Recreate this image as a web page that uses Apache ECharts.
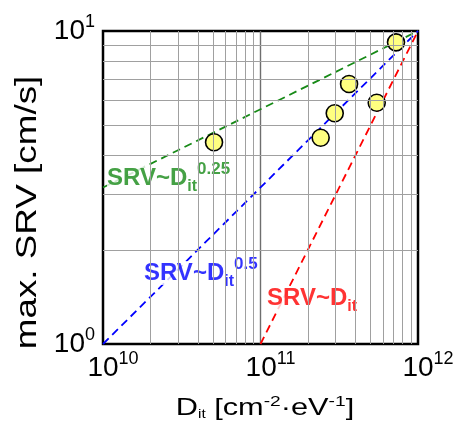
<!DOCTYPE html>
<html>
<head>
<meta charset="utf-8">
<script src="https://cdn.jsdelivr.net/npm/echarts@6/dist/echarts.min.js"></script>
<style>
html,body{margin:0;padding:0;background:#fff;}
#c{width:458px;height:424px;}
</style>
</head>
<body>
<div id="c"></div>
<script>
// ---- data ----
const dit = [5.07e10, 2.41e11, 2.96e11, 3.65e11, 5.47e11, 7.25e11];
const srv = [4.41, 4.56, 5.46, 6.77, 5.90, 9.20];
const fit025 = [[1e10, 3.162], [1e12, 10]];
const fit05 = [[1e10, 1], [1e12, 10]];
const fit1 = [[1e11, 1], [1e12, 10]];
const fitExponents = ['0.25', '0.5', ''];
const xTicks = [1e10, 1e11, 1e12];
const yTicks = [1, 10];
const minorMultipliers = [2, 3, 4, 5, 6, 7, 8, 9];

const FONT = '"Liberation Sans", Arial, sans-serif';
const GREEN = '#178a17', BLUE = '#0000ff', RED = '#ff0000';

const chart = echarts.init(document.getElementById('c'), null, {renderer: 'canvas'});

// minor grid lines (2..9 per decade)
const minorLines = [];
for (let d = 0; d < xTicks.length - 1; d++) {
  minorMultipliers.forEach(m => minorLines.push({xAxis: xTicks[d] * m}));
}
for (let d = 0; d < yTicks.length - 1; d++) {
  minorMultipliers.forEach(m => minorLines.push({yAxis: yTicks[d] * m}));
}

function fitLabel(color, sup) {
  const rich = {
    b: {fontFamily: FONT, fontSize: 24, fontWeight: 'bold', color: color, lineHeight: 32, backgroundColor: '#fff'},
    sub: {fontFamily: FONT, fontSize: 16, fontWeight: 'bold', color: color, lineHeight: 14, height: 14, verticalAlign: 'bottom', backgroundColor: '#fff'},
    sup: {fontFamily: FONT, fontSize: 17, fontWeight: 'bold', color: color, lineHeight: 14, height: 14, verticalAlign: 'top', backgroundColor: '#fff'}
  };
  return {
    show: true, position: 'right', distance: 0,
    formatter: '{b|SRV~D}{sub|it}' + (sup ? '{sup|' + sup + '}' : ''),
    rich: rich
  };
}

function fitSeries(data, color) {
  return {
    type: 'line', data: data, symbol: 'none', silent: true, z: 2,
    lineStyle: {color: color, width: 1.8, type: [8, 5]}
  };
}

const tickRich = {
  sp: {width: 20, fontSize: 18},
  b: {fontFamily: FONT, fontSize: 28, lineHeight: 28, color: '#000'},
  s: {fontFamily: FONT, fontSize: 18, lineHeight: 10, height: 10, verticalAlign: 'top', color: '#000'}
};

const option = {
  animation: false,
  backgroundColor: '#fff',
  grid: {left: 103, top: 31, width: 315, height: 313, show: true, borderColor: '#000', borderWidth: 2.5, backgroundColor: 'transparent'},
  xAxis: {
    type: 'log', logBase: 10, min: xTicks[0], max: xTicks[xTicks.length - 1], interval: 1,
    axisLine: {show: false}, axisTick: {show: false},
    splitLine: {show: true, showMinLine: false, showMaxLine: false, lineStyle: {color: '#6e6e6e', width: 1.4}},
    axisLabel: {
      margin: 10,
      formatter: v => '{sp| }{b|10}{s|' + Math.round(Math.log10(v)) + '}',
      rich: tickRich
    }
  },
  yAxis: {
    type: 'log', logBase: 10, min: yTicks[0], max: yTicks[yTicks.length - 1], interval: 1,
    axisLine: {show: false}, axisTick: {show: false},
    splitLine: {show: true, showMinLine: false, showMaxLine: false, lineStyle: {color: '#6e6e6e', width: 1.4}},
    axisLabel: {
      margin: 8,
      formatter: v => '{b|10}{s|' + Math.round(Math.log10(v)) + '}',
      rich: tickRich
    }
  },
  graphic: [
    {
      type: 'text', x: 27.5, y: 212.5, rotation: Math.PI / 2, scaleX: 1.27,
      style: {text: 'max. SRV [cm/s]', fontFamily: FONT, fontSize: 29, fill: '#000', align: 'center', verticalAlign: 'middle'}
    },
    {
      type: 'text', x: 265, y: 408.7, scaleX: 1.28,
      style: {
        text: '{b|D}{sub|it}{b| [cm}{sup|-2}{b|·eV}{sup|-1}{b|]}',
        fontFamily: FONT, fontSize: 24, fill: '#000', align: 'center', verticalAlign: 'middle',
        rich: {
          b: {fontFamily: FONT, fontSize: 24, lineHeight: 24, fill: '#000', color: '#000'},
          sub: {fontFamily: FONT, fontSize: 12, lineHeight: 13, height: 13, verticalAlign: 'bottom', fill: '#000', color: '#000'},
          sup: {fontFamily: FONT, fontSize: 15, lineHeight: 10, height: 10, verticalAlign: 'top', fill: '#000', color: '#000'}
        }
      }
    }
  ],
  series: [
    {
      type: 'line', data: fit05, symbol: 'none', silent: true, z: 1,
      lineStyle: {opacity: 0},
      markLine: {
        silent: true, symbol: 'none', label: {show: false}, animation: false,
        lineStyle: {color: '#a0a0a0', width: 1, type: 'solid'},
        data: minorLines
      }
    },
    fitSeries(fit025, GREEN),
    fitSeries(fit05, BLUE),
    fitSeries(fit1, RED),
    {
      type: 'scatter', silent: true, z: 3, symbolSize: 0,
      data: [
        {value: [1.06e10, 3.39], label: fitLabel(GREEN, fitExponents[0])},
        {value: [1.82e10, 1.686], label: fitLabel(BLUE, fitExponents[1])},
        {value: [1.10e11, 1.403], label: fitLabel(RED, fitExponents[2])}
      ]
    },
    {
      type: 'scatter', z: 4, symbol: 'circle', symbolSize: 17,
      itemStyle: {color: '#ffff80', borderColor: '#000', borderWidth: 1.6, opacity: 1},
      data: dit.map((x, i) => [x, srv[i]])
    }
  ]
};
chart.setOption(option);
</script>
</body>
</html>
